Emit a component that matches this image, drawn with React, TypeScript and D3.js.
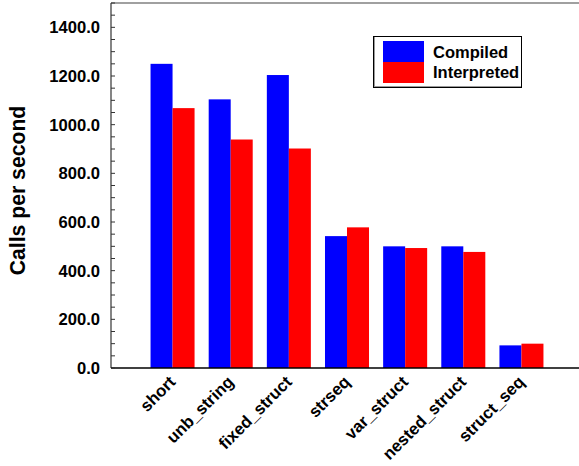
import React from "react";
import * as d3 from "d3";

const categories = ["short", "unb_string", "fixed_struct", "strseq", "var_struct", "nested_struct", "struct_seq"];
const seriesNames = ["Compiled", "Interpreted"];
const compiled = [1250, 1104, 1204, 542, 500, 500, 93];
const interpreted = [1068, 939, 902, 578, 493, 477, 100];
const seriesColors = ["#0000ff", "#ff0000"];
const yTickValues = [0, 200, 400, 600, 800, 1000, 1200, 1400];
const yTitle = "Calls per second";

const W = 579;
const H = 466;
const FONT = "'Liberation Sans', Arial, Helvetica, sans-serif";

export default function App() {
  const left = 111;
  const right = 583;
  const top = 3;
  const bottom = 368;

  const x = d3.scaleBand<string>().domain(categories).range([left, right]).paddingInner(0.243).paddingOuter(0.68);
  const xi = d3.scaleBand<string>().domain(seriesNames).range([0, x.bandwidth()]);
  const y = d3.scaleLinear().domain([0, 1500]).range([bottom, top]);
  const values = [compiled, interpreted];
  const minor = d3.range(0, 1501, 50);
  const fmt = d3.format(".1f");

  return (
    <svg width={W} height={H} style={{ position: "absolute", left: 0, top: 0, background: "#fff" }} fontFamily={FONT}>
      <rect x={0} y={0} width={W} height={H} fill="#fff" />
      {/* bars */}
      {categories.map((c, i) =>
        seriesNames.map((s, j) => (
          <rect
            key={c + s}
            x={(x(c) as number) + (xi(s) as number)}
            y={y(values[j][i])}
            width={xi.bandwidth()}
            height={y(0) - y(values[j][i])}
            fill={seriesColors[j]}
          />
        ))
      )}
      {/* frame */}
      <line x1={left} x2={W} y1={top} y2={top} stroke="#808080" strokeWidth={1.5} />
      <line x1={left} x2={left} y1={top} y2={bottom} stroke="#333" strokeWidth={1.2} />
      <line x1={left} x2={W} y1={bottom} y2={bottom} stroke="#000" strokeWidth={1.5} />
      {/* y ticks */}
      {minor.map((v) => (
        <line key={"m" + v} x1={left} x2={left + 4} y1={y(v)} y2={y(v)} stroke="#333" strokeWidth={1} />
      ))}
      {yTickValues.map((v) => (
        <text
          key={"t" + v}
          x={100}
          y={y(v)}
          dy="0.36em"
          textAnchor="end"
          fontSize={16.6}
          fontWeight="bold"
          fill="#000"
        >
          {fmt(v)}
        </text>
      ))}
      {/* y title */}
      <text
        transform={`translate(25, ${(top + bottom) / 2 + 5}) rotate(-90)`}
        textAnchor="middle"
        fontSize={21.2}
        fontWeight="bold"
        fill="#000"
      >
        {yTitle}
      </text>
      {/* x labels */}
      {categories.map((c) => {
        const cx = (x(c) as number) + x.bandwidth() / 2 + 4;
        const cy = 383;
        return (
          <text
            key={"x" + c}
            transform={`translate(${cx}, ${cy}) rotate(-45)`}
            textAnchor="end"
            fontSize={16.8}
            fontWeight="bold"
            fill="#000"
          >
            {c}
          </text>
        );
      })}
      {/* legend */}
      <g>
        <rect x={373.5} y={36.5} width={148} height={51} fill="#fff" stroke="#000" strokeWidth={1} />
        <line x1={374.5} x2={374.5} y1={37} y2={87} stroke="#999" strokeWidth={1} />
        <line x1={374} x2={521} y1={86.5} y2={86.5} stroke="#999" strokeWidth={1} />
        {seriesNames.map((s, j) => (
          <g key={"lg" + s}>
            <rect x={383} y={41 + j * 21} width={41} height={21} fill={seriesColors[j]} />
            <text x={433} y={58 + j * 20} fontSize={16.5} fontWeight="bold" fill="#000">
              {s}
            </text>
          </g>
        ))}
      </g>
    </svg>
  );
}
